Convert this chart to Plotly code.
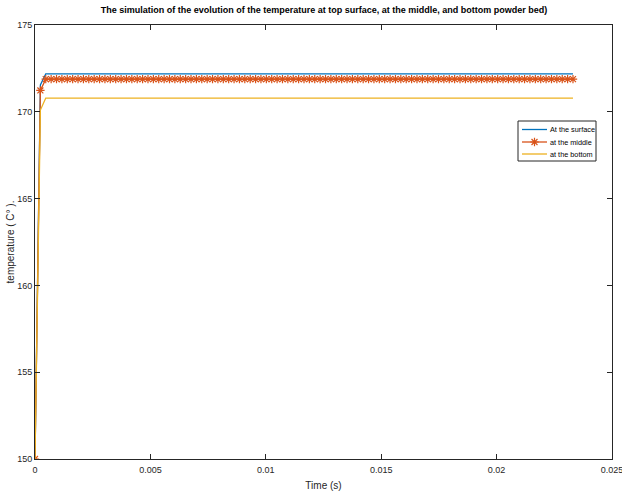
import plotly.graph_objects as go

# Time samples (s): 101 samples from 0 to 0.02331 s
t_end = 0.02331
n_steps = 100
time = [t_end * i / n_steps for i in range(n_steps + 1)]

# Temperatures (°C)
surface = [150.0, 171.55] + [172.19] * (n_steps - 1)
middle = [150.0, 171.23] + [171.88] * (n_steps - 1)
bottom = [150.0, 170.10] + [170.79] * (n_steps - 1)

series_names = ["At the surface", "at the middle", "at the bottom"]
series_colors = ["#0072BD", "#D95319", "#EDB120"]

x_ticks = [0, 0.005, 0.01, 0.015, 0.02, 0.025]
x_tick_text = ["0", "0.005", "0.01", "0.015", "0.02", "0.025"]
y_ticks = [150, 155, 160, 165, 170, 175]

FONT = "Liberation Sans Narrow, Arial Narrow, Liberation Sans, Arial, sans-serif"
AXC = "#262626"

# plot-area pixel geometry (for placing the hand-drawn legend)
W, H = 622, 493
L, R, T, B = 35, 10, 25, 34
PW, PH = W - L - R, H - T - B


def fx(px):
    return (px - L) / PW


def fy(py):
    return (H - B - py) / PH


fig = go.Figure()
fig.add_trace(go.Scatter(x=time, y=surface, mode="lines", name=series_names[0],
                         line=dict(color=series_colors[0], width=1.3), showlegend=False))
fig.add_trace(go.Scatter(x=time, y=middle, mode="lines+markers", name=series_names[1],
                         line=dict(color=series_colors[1], width=1.3),
                         marker=dict(symbol="asterisk-open", size=7,
                                     color=series_colors[1],
                                     line=dict(color=series_colors[1], width=1.2)),
                         showlegend=False))
fig.add_trace(go.Scatter(x=time, y=bottom, mode="lines", name=series_names[2],
                         line=dict(color=series_colors[2], width=1.3), showlegend=False))

# hand-drawn compact legend (MATLAB style)
box_l, box_r, box_t, box_b = 518, 596, 121, 161
rows = [129.5, 142, 154]
line_x0, line_x1, text_x = 522, 547, 548
shapes = [dict(type="rect", xref="x domain", yref="y domain",
               x0=fx(box_l), x1=fx(box_r), y0=fy(box_b), y1=fy(box_t),
               line=dict(color=AXC, width=1), fillcolor="white", layer="below")]
annotations = []
for name, col, ry in zip(series_names, series_colors, rows):
    shapes.append(dict(type="line", xref="x domain", yref="y domain",
                       x0=fx(line_x0), x1=fx(line_x1), y0=fy(ry), y1=fy(ry),
                       line=dict(color=col, width=1.3), layer="above"))
    annotations.append(dict(xref="x domain", yref="y domain", x=fx(text_x), y=fy(ry),
                            text=name, showarrow=False, xanchor="left", yanchor="middle",
                            font=dict(family=FONT, size=7.3, color="black")))
# legend marker sample for the middle series on an invisible overlay axis
fig.add_trace(go.Scatter(x=[fx((line_x0 + line_x1) / 2)], y=[fy(rows[1])],
                         xaxis="x2", yaxis="y2", mode="markers", showlegend=False,
                         hoverinfo="skip",
                         marker=dict(symbol="asterisk-open", size=7, color=series_colors[1],
                                     line=dict(color=series_colors[1], width=1.2))))

axis_common = dict(showline=True, linecolor=AXC, linewidth=1, mirror="ticks",
                   ticks="inside", ticklen=5, tickcolor=AXC, showgrid=False,
                   zeroline=False, automargin=False, ticklabeloverflow="allow",
                   tickfont=dict(family=FONT, size=9, color=AXC))

fig.update_layout(
    width=W, height=H,
    margin=dict(l=L, r=R, t=T, b=B),
    paper_bgcolor="white", plot_bgcolor="white",
    font=dict(family=FONT, color=AXC),
    title=dict(text="<b>The simulation of the evolution of the temperature at top surface, at the middle, and bottom powder bed)</b>",
               x=0.521, xanchor="center", y=1 - 10 / H, yanchor="middle",
               font=dict(family=FONT, size=9, color="black")),
    xaxis=dict(range=[0, 0.025], tickvals=x_ticks, ticktext=x_tick_text,
               ticklabelstandoff=2,
               title=dict(text="Time (s)", font=dict(family=FONT, size=10, color=AXC), standoff=8),
               **axis_common),
    yaxis=dict(range=[150, 175], tickvals=y_ticks,
               title=dict(text="temperature ( C° ).", font=dict(family=FONT, size=10, color=AXC), standoff=0),
               **axis_common),
    xaxis2=dict(overlaying="x", range=[0, 1], visible=False, anchor="y2"),
    yaxis2=dict(overlaying="y", range=[0, 1], visible=False, anchor="x2"),
    shapes=shapes,
    annotations=annotations,
    showlegend=False,
)

fig.write_html("out.html")
